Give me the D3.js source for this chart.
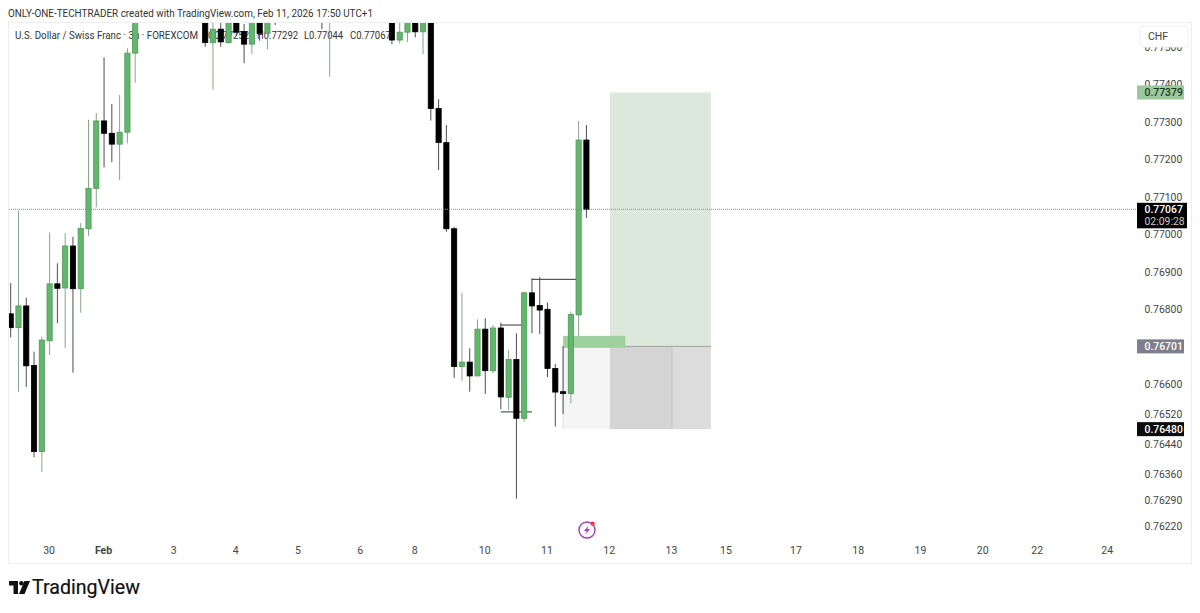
<!DOCTYPE html>
<html>
<head>
<meta charset="utf-8">
<script src="https://cdn.jsdelivr.net/npm/d3@7"></script>
<style>
  body { margin: 0; background: #fff; }
  text { font-family: Roboto, "Open Sans", sans-serif; }
</style>
</head>
<body>
<div id="chart"></div>
<script>
// 3h candles, one row per bar. null = bar sits above the visible window
const opens = [0.76788,0.76751,0.76809,0.76650,0.76420,0.76716,0.76868,0.76857,0.76969,0.76855,
  0.77015,0.77123,0.77303,0.77270,0.77241,0.77273,0.77484,null,null,null,
  null,null,null,null,null,0.77599,0.77512,0.77548,0.77512,0.77586,
  0.77542,0.77508,0.77599,0.77537,0.77599,null,null,null,null,null,
  0.77620,0.77600,null,null,null,null,null,null,null,0.77599,
  0.77519,0.77540,0.77599,0.77541,0.77599,0.77336,0.77245,0.77015,0.76647,0.76659,
  0.76622,0.76747,0.76636,0.76750,0.76565,0.76666,0.76509,0.76844,0.76810,0.76800,
  0.76642,0.76580,0.76575,0.76785,0.77252];
const closes = [0.76751,0.76809,0.76649,0.76420,0.76718,0.76868,0.76856,0.76969,0.76855,0.77016,
  0.77123,0.77303,0.77270,0.77241,0.77273,0.77484,0.77599,null,null,null,
  null,null,null,null,null,0.77512,0.77548,0.77514,0.77586,0.77540,
  0.77508,0.77599,0.77537,0.77599,0.77580,null,null,null,null,null,
  0.77600,0.77620,null,null,null,null,null,null,null,0.77519,
  0.77540,0.77599,0.77541,0.77599,0.77336,0.77245,0.77015,0.76647,0.76659,0.76622,
  0.76747,0.76636,0.76750,0.76566,0.76666,0.76509,0.76844,0.76809,0.76798,0.76642,
  0.76579,0.76575,0.76786,0.77252,0.77067];
const highs = [0.76870,0.77063,0.76831,0.76687,0.76727,0.77005,0.76923,0.77003,0.76994,0.77030,
  0.77306,0.77324,0.77473,0.77348,0.77372,0.77497,0.77620,null,null,null,
  null,null,null,null,null,0.77610,0.77586,0.77572,0.77599,0.77599,
  0.77562,0.77610,0.77610,0.77610,0.77610,null,null,null,null,null,
  0.77630,0.77630,null,null,null,null,null,null,null,0.77610,
  0.77600,0.77610,0.77610,0.77610,0.77610,0.77361,0.77292,0.77020,0.76844,0.76696,
  0.76773,0.76776,0.76758,0.76764,0.76691,0.76736,0.76846,0.76883,0.76886,0.76818,
  0.76654,0.76702,0.76794,0.77303,0.77292];
const lows = [0.76725,0.76580,0.76593,0.76405,0.76366,0.76678,0.76763,0.76696,0.76631,0.76791,
  0.76996,0.77072,0.77179,0.77193,0.77145,0.77243,0.77405,null,null,null,
  null,null,null,null,null,0.77501,0.77387,0.77501,0.77510,0.77530,
  0.77457,0.77482,0.77517,0.77494,0.77559,null,null,null,null,null,
  0.77548,0.77421,null,null,null,null,null,null,null,0.77508,
  0.77510,0.77514,0.77526,0.77481,0.77304,0.77172,0.77007,0.76617,0.76609,0.76580,
  0.76622,0.76574,0.76629,0.76533,0.76531,0.76294,0.76500,0.76736,0.76734,0.76619,
  0.76487,0.76520,0.76549,0.76729,0.77044];

const priceTicks = [0.775,0.774,0.773,0.772,0.771,0.770,0.769,0.768,0.766,0.7652,0.7644,0.7636,0.7629,0.7622];
const dayLabels = ["30","Feb","3","4","5","6","8","10","11","12","13","15","17","18","19","20","22","24"];
const dayBars = [5,12,21,29,37,45,52,61,69,77,85,92,101,109,117,125,132,141];

const takeProfit = 0.77379, entry = 0.76701, stopLoss = 0.76480, lastPrice = 0.77067;
const zoneTop = 0.76729, zoneBottom = 0.76697;
const boxStart = 71, toolStart = 77, boxEnd = 85, toolEnd = 90, zoneEnd = 79;
// small levels: price, from bar, to bar
const levelPrices = [0.76758, 0.76526, 0.76880];
const levelFrom = [63, 63, 67];
const levelTo = [66, 67, 73];

const title = "ONLY-ONE-TECHTRADER created with TradingView.com, Feb 11, 2026 17:50 UTC+1";
const legendName = "U.S. Dollar / Swiss Franc · 3h · FOREXCOM";
const legendOhlc = ["O0.77252", "H0.77292", "L0.77044", "C0.77067"];

const WIDTH = 1200, HEIGHT = 613;
const PLOT = { LEFT: 9, RIGHT: 1137, TOP: 23, BOTTOM: 563 };

const x = d3.scaleLinear().domain([0, 100]).range([10.7, 788.7]);
const y = d3.scaleLinear().domain([0.77, 0.76]).range([234.4, 608.9]);

const svg = d3.select("#chart").append("svg")
  .attr("width", WIDTH).attr("height", HEIGHT)
  .style("display", "block");

svg.append("defs").append("clipPath").attr("id", "plot")
  .append("rect")
  .attr("x", PLOT.LEFT).attr("y", PLOT.TOP)
  .attr("width", PLOT.RIGHT - PLOT.LEFT).attr("height", PLOT.BOTTOM - PLOT.TOP);

svg.append("text").attr("x", 8).attr("y", 17)
  .attr("font-size", 11).attr("fill", "#333")
  .attr("textLength", 365).attr("lengthAdjust", "spacingAndGlyphs")
  .text(title);

// frame
svg.append("rect")
  .attr("x", 8.5).attr("y", 22.5).attr("width", 1183).attr("height", 541)
  .attr("fill", "none").attr("stroke", "#eeeeee");

// legend sits under the candles
const legend = svg.append("g").attr("fill", "#333").attr("font-size", 10.6);
legend.append("text").attr("x", 15).attr("y", 39)
  .attr("textLength", 183).attr("lengthAdjust", "spacingAndGlyphs")
  .text(legendName);
const legendX = [208, 257, 304, 350];
legend.selectAll(".ohlc").data(legendOhlc).enter().append("text")
  .attr("class", "ohlc").attr("x", (d, i) => legendX[i]).attr("y", 39)
  .attr("textLength", (d, i) => i === 2 ? 39 : 41).attr("lengthAdjust", "spacingAndGlyphs")
  .text(d => d);

const plot = svg.append("g").attr("clip-path", "url(#plot)");

// long position tool
const band = (x0, x1, p0, p1, fill) => plot.append("rect")
  .attr("x", x(x0)).attr("width", x(x1) - x(x0))
  .attr("y", y(p0)).attr("height", y(p1) - y(p0))
  .attr("fill", fill);

band(toolStart, toolEnd, takeProfit, entry, "#dce8dc");
band(boxStart, toolStart, entry, stopLoss, "#f5f5f5");
band(toolStart, boxEnd, entry, stopLoss, "#d4d4d4");
band(boxEnd, toolEnd, entry, stopLoss, "#dcdcdc");

plot.append("line")
  .attr("x1", x(toolStart)).attr("x2", x(toolEnd))
  .attr("y1", y(entry)).attr("y2", y(entry))
  .attr("stroke", "#a0a0a0");
plot.append("line")
  .attr("x1", x(boxEnd)).attr("x2", x(boxEnd))
  .attr("y1", y(entry)).attr("y2", y(stopLoss))
  .attr("stroke", "#c4c4c4");
plot.append("line")
  .attr("x1", x(boxStart)).attr("x2", x(boxStart))
  .attr("y1", y(entry)).attr("y2", y(stopLoss))
  .attr("stroke", "#e2e2e2");

band(boxStart, zoneEnd, zoneTop, zoneBottom, "#9fd19f");

// levels
plot.selectAll(".level").data(levelPrices).enter().append("line")
  .attr("class", "level")
  .attr("x1", (d, i) => x(levelFrom[i])).attr("x2", (d, i) => x(levelTo[i]))
  .attr("y1", d => y(d)).attr("y2", d => y(d))
  .attr("stroke", "#333");

// candles
const bars = d3.range(opens.length).filter(i => opens[i] !== null);
const isUp = i => closes[i] >= opens[i];

plot.selectAll(".wick").data(bars).enter().append("line")
  .attr("class", "wick")
  .attr("x1", i => x(i)).attr("x2", i => x(i))
  .attr("y1", i => y(highs[i])).attr("y2", i => y(lows[i]))
  .attr("stroke", i => isUp(i) ? "#86a58b" : "#4d4d4d");

plot.selectAll(".body").data(bars).enter().append("rect")
  .attr("class", "body")
  .attr("x", i => x(i) - 2.6).attr("width", 5.2)
  .attr("y", i => y(Math.max(opens[i], closes[i])))
  .attr("height", i => Math.max(1.5, Math.abs(y(opens[i]) - y(closes[i]))))
  .attr("fill", i => isUp(i) ? "#62b76c" : "#000")
  .attr("stroke", i => isUp(i) ? "#4f9a58" : "#000")
  .attr("stroke-width", 0.8);

// last price line
plot.append("line")
  .attr("x1", PLOT.LEFT).attr("x2", PLOT.RIGHT)
  .attr("y1", y(lastPrice)).attr("y2", y(lastPrice))
  .attr("stroke", "#8a8a8a").attr("stroke-dasharray", "1 1");

// axes
const yAxis = d3.axisRight(y)
  .tickValues(priceTicks).tickSize(0).tickPadding(0)
  .tickFormat(d3.format(".5f"));
const yAxisGroup = svg.append("g").attr("transform", "translate(1144.5,0)").call(yAxis);
yAxisGroup.select(".domain").remove();
yAxisGroup.selectAll("text").attr("font-size", 10.4).attr("fill", "#444");

const xAxis = d3.axisBottom(x)
  .tickValues(dayBars).tickSize(0).tickPadding(0)
  .tickFormat((d, i) => dayLabels[i]);
const xAxisGroup = svg.append("g").attr("transform", "translate(-1,547)").call(xAxis);
xAxisGroup.select(".domain").remove();
xAxisGroup.selectAll("text")
  .attr("font-size", 10.5).attr("fill", "#444")
  .attr("font-weight", (d, i) => dayLabels[i] === "Feb" ? 700 : 400);

// currency button covers the top tick
svg.append("rect").attr("x", 1140).attr("y", 26).attr("width", 48).attr("height", 21)
  .attr("rx", 3).attr("fill", "#fff").attr("stroke", "#f0f0f0");
svg.append("text").attr("x", 1148).attr("y", 40)
  .attr("font-size", 10.5).attr("fill", "#444").text("CHF");

// price tags
const tag = (price, fill, color, weight) => {
  svg.append("rect").attr("x", 1137).attr("y", y(price) - 7).attr("width", 47).attr("height", 14).attr("fill", fill);
  svg.append("text").attr("x", 1144.5).attr("y", y(price) + 4)
    .attr("font-size", 10.4).attr("font-weight", weight).attr("fill", color)
    .text(d3.format(".5f")(price));
};
tag(takeProfit, "#9cc89e", "#1c3a20", 500);
tag(entry, "#7d808c", "#fff", 500);
tag(stopLoss, "#0c0c0c", "#fff", 500);

svg.append("rect").attr("x", 1137).attr("y", y(lastPrice) - 6.5).attr("width", 50).attr("height", 25.5).attr("fill", "#000");
svg.append("text").attr("x", 1144.5).attr("y", y(lastPrice) + 4)
  .attr("font-size", 10.4).attr("font-weight", 500).attr("fill", "#fff").text(d3.format(".5f")(lastPrice));
svg.append("text").attr("x", 1144.5).attr("y", y(lastPrice) + 16)
  .attr("font-size", 10.4).attr("fill", "#ccc").text("02:09:28");

// lightning badge
const badge = svg.append("g").attr("transform", "translate(587,530)");
badge.append("circle").attr("r", 8).attr("fill", "#fff").attr("stroke", "#a23fc0").attr("stroke-width", 1.4);
badge.append("path").attr("d", "M1.5,-4.5 L-3,1 L-0.3,1 L-1.5,4.5 L3,-1 L0.3,-1 Z").attr("fill", "#a23fc0");
badge.append("circle").attr("cx", 5.6).attr("cy", -6.4).attr("r", 2.2).attr("fill", "#f23645");

// logo
const logo = svg.append("g").attr("transform", "translate(9,581)").attr("fill", "#111");
logo.append("path").attr("d", "M0,0 H9 V13 H4.5 V4.5 H0 Z");
logo.append("circle").attr("cx", 12.4).attr("cy", 2.3).attr("r", 2.3);
logo.append("path").attr("d", "M15.5,0 H21 L15.5,13 H10 Z");
svg.append("text").attr("x", 32).attr("y", 594)
  .attr("font-size", 19.6).attr("font-weight", 400).attr("fill", "#111")
  .attr("stroke", "#111").attr("stroke-width", 0.2).text("TradingView");
</script>
</body>
</html>
